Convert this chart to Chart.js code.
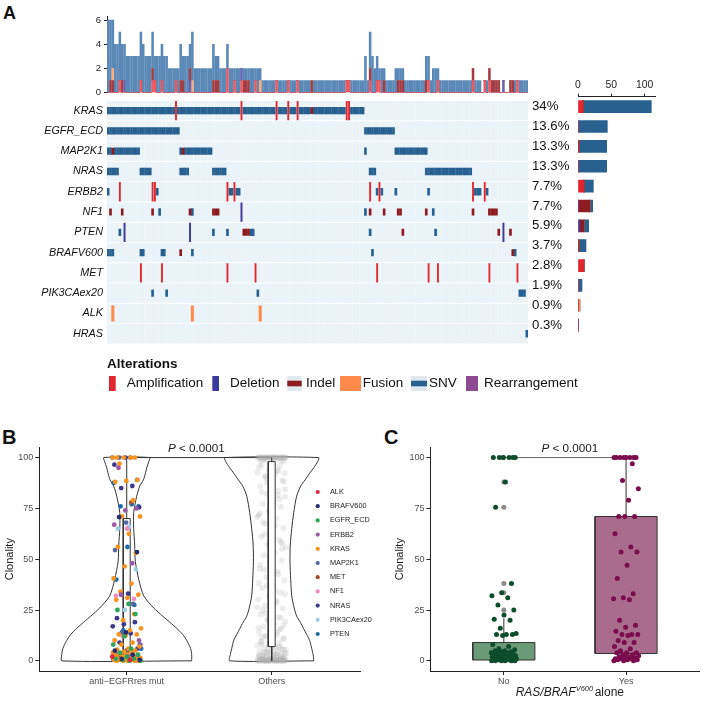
<!DOCTYPE html>
<html>
<head>
<meta charset="utf-8">
<title>Alterations and clonality</title>
<script src="https://cdn.jsdelivr.net/npm/chart.js@4.4.1/dist/chart.umd.min.js"></script>
<style>
html,body{margin:0;padding:0;background:#fff;}
body{width:705px;height:704px;position:relative;overflow:hidden;font-family:"Liberation Sans",Arial,Helvetica,sans-serif;}
canvas{position:absolute;display:block;}
.panel{position:absolute;font-weight:bold;color:#111;line-height:1;}
</style>
</head>
<body>
<div class="panel" style="left:3px;top:4px;font-size:18px;">A</div>
<div class="panel" style="left:2px;top:427px;font-size:20px;">B</div>
<div class="panel" style="left:384px;top:427px;font-size:20px;">C</div>
<canvas id="topBars" width="470" height="105" style="left:60px;top:0px;width:470px;height:105px;"></canvas>
<canvas id="onco" width="705" height="310" style="left:0px;top:90px;width:705px;height:310px;"></canvas>
<canvas id="rightBars" width="134" height="268" style="left:532px;top:78px;width:134px;height:268px;"></canvas>
<canvas id="boxc" width="325" height="265" style="left:380px;top:440px;width:325px;height:265px;"></canvas>
<canvas id="violin" width="380" height="265" style="left:0px;top:440px;width:380px;height:265px;"></canvas>
<script>
// ---------------- DATA: panel A ----------------
const genes = ['KRAS','EGFR_ECD','MAP2K1','NRAS','ERBB2','NF1','PTEN','BRAFV600','MET','PIK3CAex20','ALK','HRAS'];
const pctLabels = ['34%','13.6%','13.3%','13.3%','7.7%','7.7%','5.9%','3.7%','2.8%','1.9%','0.9%','0.3%'];
const altTypes = ['Amplification','Deletion','Indel','Fusion','SNV','Rearrangement'];
const nSamples = 180;
const topTicks = [0,2,4,6];
const rightTicks = [0,50,100];
// altered sample positions (column index, or [from,to] runs) read from the oncoprint
const krasSNV = [[0,28],[30,56],[58,71],[73,76],[78,80],[82,86],[88,101],[104,109]];
const krasAmp = [29,57,72,77,81,102,103];
const krasIndel = [87];
const egfrSNV = [[0,30],[110,122]];
const map2k1SNV = [[0,1],[3,13],31,[33,44],110,[123,136]];
const map2k1Indel = [2,32];
const nrasSNV = [[0,4],[14,18],[31,34],[45,50],[112,114],[136,155]];
const erbb2Amp = [5,19,20,51,54,112,116,156,161];
const erbb2SNV = [0,21,52,53,55,56,115,117,123,137,157,158,159,162];
const nf1Indel = [1,6,19,35,45,46,47,112,118,124,125,136,156,163,164,165,166];
const nf1SNV = [22,36,110,139];
const nf1Del = [57];
const ptenSNV = [5,45,51,61,62,112,140];
const ptenDel = [7,35,169];
const ptenIndel = [58,59,60,126,167,172];
const brafSNV = [0,1,2,14,15,23,24,36,113,174];
const brafIndel = [31,173];
const metAmp = [14,23,51,63,115,137,141,163,175];
const pik3caSNV = [19,25,64,176,177,178];
const alkFusion = [2,36,65];
const hrasSNV = [179];

// ---------------- DATA: panel B ----------------
const bGroups = ['anti\u2212EGFRres mut','Others'];
const yTickValues = [0,25,50,75,100];
const bALK = [2,0.5];
const bBRAFV600 = [70.7,53.5,14,5,3,1,0.5];
const bEGFR = [28,25,23,12,8,6,4,3,2,1,1,0.5,0,0];
const bERBB2 = [95,75,74,67,48,32.5,10,2];
const bKRAS = [100,100,100,100,100,97,89,88.5,88,79,71,71,62.5,56,53,46.5,40.5,38,34,32.5,31,30,23,20,16,15,13,13,12.5,10,9,8,7,6,5.5,5,4.5,4,4,3.5,3,3,2.5,2,2,1.5,1.5,1,1,1,0.5,0.5,0.5,0,0,0,0,0];
const bMAP2K1 = [100,100,100,89,68,54.5,28,14,8,5,3,2,1,0.5];
const bMET = [78,3,1];
const bNF1 = [65,32,30.5,12,8,4,1,0];
const bNRAS = [100,96.5,86,85,75.5,33,21,19,18,17,13.5,9,6,5,3,2,1,0.5];
const bPIK3CA = [66,65,45,25];
const bPTEN = [87.5,77,76,76,56,40,27.5,15,6,2];
const othersClonality = [
100,100,100,100,100,100,100,100,100,100,100,100,100,100,100,100,100,100,100,100,
99.4,98.7,98.1,97.3,96.2,95.8,94.1,92.6,91.9,90.4,88.8,87.1,85.9,83.6,82.2,80.7,
78.9,77.2,75.8,73.1,71.6,69.9,67.4,65.2,63.7,61.1,59.6,57.3,55.8,53.2,51.9,49.4,
47.8,45.3,43.9,41.2,39.7,37.5,35.8,33.6,31.9,30.2,28.6,27.1,25.8,24.3,22.9,21.6,
20.4,19.2,18.1,16.9,15.8,14.7,13.9,12.8,11.9,11.1,10.3,9.6,8.8,8.2,7.5,6.9,
6.3,5.8,5.2,4.7,4.3,3.9,3.4,3.1,2.7,2.4,2.1,1.8,1.6,1.3,1.1,0.9,0.7,0.5,0.4,0.3,
0.2,0.1,0,0,0,0,0,0,0,0,0,0,0,0,0,0,
99.8,97.9,93.4,89.5,84.3,76.5,68.2,58.4,48.6,38.2,29.4,23.5,17.4,13.2,9.1,6.6,4.5,3.6,2.9,2.2,1.5,1.0,0.6,0.3,0.1,0.5,0.8,1.2,0.4,0.2,
100,100,100,100,100,100,100,100,100,100,99.1,98.4,96.8,95.1,93.9,91.2,88.1,86.4,82.9,79.6,74.2,70.8,66.5,62.3,57.9,52.7,
47.1,42.6,36.9,32.8,27.8,24.9,21.1,18.7,16.2,14.1,12.3,10.8,9.3,8.0,7.1,6.1,5.4,4.9,4.1,3.7,3.2,2.8,2.3,1.9,1.7,1.4,
0.9,0.6,0.3,0,0,0,0,0,0,0,0,0.2,0.4,0.8,1.1,1.3,2.6,3.3,4.4,5.6,7.7,11.6,15.3,19.8,26.2,34.7,44.8,55.1,64.4,72.5,
81.5,87.6,92.3,96.5,98.9,99.6];
// violin density half-widths (x units) at clonality levels
const violinY = [0,3,6,10,13,16,19,22,26,32,40,49,57,65,73,81,86,89,92,95,98,100];
const violinLeftHW = [0.448,0.448,0.441,0.414,0.386,0.345,0.297,0.248,0.186,0.117,0.083,0.059,0.055,0.048,0.048,0.069,0.090,0.115,0.128,0.138,0.152,0.159];
const violinRightHW = [0.290,0.286,0.276,0.262,0.241,0.219,0.197,0.172,0.155,0.138,0.131,0.126,0.128,0.138,0.152,0.172,0.200,0.230,0.259,0.290,0.317,0.324];
const bQ1 = [1,7], bMedian = [9,39], bQ3 = [70,98], bLow = [0,0], bHigh = [100,100];

// ---------------- DATA: panel C ----------------
const cGroups = ['No','Yes'];
const cNo = [100,100,100,100,100,100,88,75.5,38,33.5,32,31,27.5,25,22.5,20.5,20,16,13.5,13,13,13,12.5,8,7,6,5.5,5,5,4.5,4.5,4,4,4,3.5,3.5,3,3,3,2.5,2.5,2.5,2,2,2,2,1.5,1.5,1.5,1.5,1,1,1,1,1,0.5,0.5,0.5,0.5,0.5,0,0,0,0,0,0];
const cNoOutliers = [100,88,75.5,38,33.5,25];
const cYes = [100,100,100,100,100,100,100,100,97,88.7,84.7,79,71,71,71,62.5,56,53.5,53.5,47,40.5,33,31,30.5,30,20,17.5,16.5,14.5,13,13,13,12.5,10,9,9,7,6,5,4,4,4,3,3,2.5,2,2,1.5,1.5,1,1,1,0.5,0.5,0.5,0,0,0];
const cQ1 = [0.4,3.6], cMedian = [1.5,17], cQ3 = [9,71], cLow = [0,0], cHigh = [21,100];
const pValueLabel = ['P',' < 0.0001'];
const cAxisTitle = ['RAS/BRAF','V600','alone'];

// ---------------- STYLES ----------------
const FONT = '"Liberation Sans", Arial, Helvetica, sans-serif';
Chart.defaults.font.family = FONT;
Chart.defaults.color = '#222';
const typeColor = {Amplification:'#e1262d', Deletion:'#3b3a9e', Indel:'#8c1c21', Fusion:'#ff8a4c', SNV:'#28608f', Rearrangement:'#8d4c91'};
const topColor = {Amplification:'#ec585d', Deletion:'#6463b5', Indel:'#a33d43', Fusion:'#f9ab7d', SNV:'#5a88b7', Rearrangement:'#a572a8'};
const cellHalf = {Amplification:0.46, Deletion:0.46, Fusion:0.38, SNV:0.165, Indel:0.155, Rearrangement:0.46};
const cellWidth = {Amplification:1.2, Deletion:1.3, Fusion:2.4, SNV:2.0, Indel:2.0, Rearrangement:1.9};
const cellOrder = {SNV:6, Indel:5, Amplification:4, Deletion:3, Fusion:2, Rearrangement:1};
const bGeneColor = {ALK:'#e3263f', BRAFV600:'#262a6e', EGFR_ECD:'#2ea45a', ERBB2:'#9a58a6', KRAS:'#f7931e', MAP2K1:'#56689f', MET:'#9f4f2c', NF1:'#ef8cbe', NRAS:'#3d3a8c', PIK3CAex20:'#a3cbe4', PTEN:'#1f6eab'};

// ---------------- BUILD TABLES ----------------
function expand(list){ const out=[]; list.forEach(v=>{ if(Array.isArray(v)){ for(let s=v[0]; s<=v[1]; s++) out.push(s);} else out.push(v); }); return out; }
const sampleIds = Array.from({length:nSamples},(_,i)=>'S'+(i+1));
const alterationTable = [
 ['KRAS','SNV',krasSNV],['KRAS','Amplification',krasAmp],['KRAS','Indel',krasIndel],
 ['EGFR_ECD','SNV',egfrSNV],
 ['MAP2K1','SNV',map2k1SNV],['MAP2K1','Indel',map2k1Indel],
 ['NRAS','SNV',nrasSNV],
 ['ERBB2','Amplification',erbb2Amp],['ERBB2','SNV',erbb2SNV],
 ['NF1','Indel',nf1Indel],['NF1','SNV',nf1SNV],['NF1','Deletion',nf1Del],
 ['PTEN','SNV',ptenSNV],['PTEN','Deletion',ptenDel],['PTEN','Indel',ptenIndel],
 ['BRAFV600','SNV',brafSNV],['BRAFV600','Indel',brafIndel],
 ['MET','Amplification',metAmp],
 ['PIK3CAex20','SNV',pik3caSNV],
 ['ALK','Fusion',alkFusion],
 ['HRAS','SNV',hrasSNV]
];
const topCounts = {}, geneCounts = {};
altTypes.forEach(t=>{ topCounts[t]=new Array(nSamples).fill(0); geneCounts[t]=new Array(genes.length).fill(0); });
alterationTable.forEach(a=>{ const r=genes.indexOf(a[0]); expand(a[2]).forEach(s=>{ topCounts[a[1]][s]++; geneCounts[a[1]][r]++; }); });
const usedTypes = altTypes.filter(t=>geneCounts[t].some(v=>v>0));

// ---------------- A: top bars ----------------
new Chart(document.getElementById('topBars'), {
  type:'bar',
  data:{labels:sampleIds, datasets: usedTypes.map(t=>({label:t, data:topCounts[t], backgroundColor:topColor[t], barThickness:1.9}))},
  options:{responsive:false, animation:false, events:[],
    layout:{padding:{top:16.7,right:2,bottom:12.3,left:0}},
    plugins:{legend:{display:false}, tooltip:{enabled:false}},
    scales:{
      x:{display:false, stacked:true},
      y:{stacked:true, min:0, max:6.28, afterBuildTicks:s=>{s.ticks=topTicks.map(v=>({value:v}));}, afterFit:s=>{s.width=47;},
         ticks:{font:{size:9.5}, color:'#222', padding:3},
         grid:{drawOnChartArea:false, tickLength:3, tickColor:'#222'},
         border:{display:true, color:'#222', width:1}}
    }}
});

// ---------------- A: oncoprint ----------------
const bgData = [];
genes.forEach((g,r)=>sampleIds.forEach(s=>bgData.push({x:s, y:[r-0.46, r+0.46]})));
const oncoDatasets = [{label:'none', data:bgData, backgroundColor:'#eaf3f8', barThickness:1.9, grouped:false, order:10}];
usedTypes.forEach(t=>{
  const data=[];
  alterationTable.filter(a=>a[1]===t).forEach(a=>{ const r=genes.indexOf(a[0]); expand(a[2]).forEach(s=>data.push({x:sampleIds[s], y:[r-cellHalf[t], r+cellHalf[t]]})); });
  oncoDatasets.push({label:t, data, backgroundColor:typeColor[t], barThickness:cellWidth[t], grouped:false, order:cellOrder[t]});
});
const legendLayout = {titleX:107, titleY:277.7, glyphTop:286, glyphH:15, textY:296.7,
  glyphX:[109,212.3,287.3,340,411,466], glyphW:[6.7,6.7,14.4,21,16,12], textX:[126.7,230,306,362.7,429,484]};
const oncoLegend = {id:'oncoLegend', afterDraw(chart){
  const ctx=chart.ctx, L=legendLayout; ctx.save();
  ctx.fillStyle='#111'; ctx.textBaseline='alphabetic'; ctx.textAlign='left';
  ctx.font='bold 13.5px '+FONT; ctx.fillText('Alterations', L.titleX, L.titleY);
  ctx.font='13.5px '+FONT;
  altTypes.forEach((t,i)=>{
    const x=L.glyphX[i], w=L.glyphW[i];
    if(t==='SNV'||t==='Indel'){
      ctx.fillStyle='#dfe9ef'; ctx.fillRect(x, L.glyphTop, w, L.glyphH);
      ctx.fillStyle=typeColor[t]; ctx.fillRect(x, L.glyphTop+L.glyphH/2-2.8, w, 5.6);
    } else { ctx.fillStyle=typeColor[t]; ctx.fillRect(x, L.glyphTop, w, L.glyphH); }
    ctx.fillStyle='#111'; ctx.fillText(t, L.textX[i], L.textY);
  });
  ctx.restore();
}};
new Chart(document.getElementById('onco'), {
  type:'bar',
  data:{labels:sampleIds, datasets:oncoDatasets},
  options:{responsive:false, animation:false, events:[],
    layout:{padding:{top:6.7,right:177,bottom:56.1,left:0}},
    plugins:{legend:{display:false}, tooltip:{enabled:false}},
    scales:{
      x:{display:false},
      y:{type:'linear', reverse:true, min:-0.5, max:11.5,
         afterBuildTicks:s=>{s.ticks=genes.map((g,i)=>({value:i}));}, afterFit:s=>{s.width=107;},
         ticks:{callback:v=>genes[v], font:{size:10.8, style:'italic'}, color:'#111', padding:4, autoSkip:false},
         grid:{display:false, drawTicks:false}, border:{display:false}}
    }},
  plugins:[oncoLegend]
});

// ---------------- A: right bars ----------------
new Chart(document.getElementById('rightBars'), {
  type:'bar',
  data:{labels:genes, datasets: usedTypes.map(t=>({label:t, data:geneCounts[t], backgroundColor:typeColor[t], barThickness:12}))},
  options:{indexAxis:'y', responsive:false, animation:false, events:[],
    layout:{padding:{top:0,right:10.7,bottom:2.1,left:0}},
    plugins:{legend:{display:false}, tooltip:{enabled:false}},
    scales:{
      x:{position:'top', stacked:true, min:0, max:116, afterBuildTicks:s=>{s.ticks=rightTicks.map(v=>({value:v}));}, afterFit:s=>{s.height=18.7;},
         ticks:{font:{size:10.4}, color:'#222', padding:2, maxRotation:0},
         grid:{drawOnChartArea:false, tickLength:3, tickColor:'#222'}, border:{display:true, color:'#222', width:1}},
      y:{stacked:true, afterFit:s=>{s.width=46;},
         ticks:{callback:(v,i)=>pctLabels[i], crossAlign:'far', font:{size:13.2}, color:'#111', autoSkip:false},
         grid:{display:false, drawTicks:false}, border:{display:false}}
    }}
});

// ---------------- helpers for B / C ----------------
function jitterOffset(k, w){ const f=(k*0.6180339887498949)%1; return (f-0.5)*2*w; }
function drawPValue(ctx, cx, cy){
  ctx.save(); ctx.fillStyle='#1a1a1a'; ctx.textBaseline='middle'; ctx.textAlign='left';
  const f1='italic 11.7px '+FONT, f2='11.7px '+FONT;
  ctx.font=f1; const w1=ctx.measureText(pValueLabel[0]).width;
  ctx.font=f2; const w2=ctx.measureText(pValueLabel[1]).width;
  const x=cx-(w1+w2)/2;
  ctx.font=f1; ctx.fillText(pValueLabel[0], x, cy);
  ctx.font=f2; ctx.fillText(pValueLabel[1], x+w1, cy);
  ctx.restore();
}
function boxDatasets(center, hw, q1, med, q3, lo, hi, fill, order, medW){
  return [
    {type:'scatter', data:[{x:center,y:q3},{x:center,y:hi}], showLine:true, pointRadius:0, borderColor:'#333', borderWidth:1, order:order},
    {type:'scatter', data:[{x:center,y:q1},{x:center,y:lo}], showLine:true, pointRadius:0, borderColor:'#333', borderWidth:1, order:order},
    {type:'scatter', data:[{x:center-hw,y:q1},{x:center+hw,y:q1},{x:center+hw,y:q3},{x:center-hw,y:q3},{x:center-hw,y:q1}], showLine:true, pointRadius:0, borderColor:'#333', borderWidth:1, backgroundColor:fill, fill:'shape', order:order},
    {type:'scatter', data:[{x:center-hw,y:med},{x:center+hw,y:med}], showLine:true, pointRadius:0, borderColor:'#333', borderWidth:medW, order:order}
  ];
}
function yAxisBase(width, titlePad){
  return {type:'linear', min:-5, max:105, afterBuildTicks:s=>{s.ticks=yTickValues.map(v=>({value:v}));}, afterFit:s=>{s.width=width;},
    ticks:{color:'#4d4d4d', font:{size:9}, padding:2},
    grid:{drawOnChartArea:false, tickLength:4, tickColor:'#222'}, border:{display:true, color:'#222', width:1},
    title:{display:true, text:'Clonality', font:{size:11}, color:'#1a1a1a', padding:{top:titlePad,bottom:0}}};
}
function xAxisBase(min, max, labels){
  return {type:'linear', min:min, max:max, afterBuildTicks:s=>{s.ticks=labels.map((l,i)=>({value:i+1}));}, afterFit:s=>{s.height=34;},
    ticks:{callback:v=>labels[Math.round(v)-1], color:'#4d4d4d', font:{size:9}, padding:1, autoSkip:false, maxRotation:0},
    grid:{drawOnChartArea:false, tickLength:4, tickColor:'#222'}, border:{display:true, color:'#222', width:1}};
}
function violinPolygon(center, hw){
  const pts=[]; violinY.forEach((y,i)=>pts.push({x:center+hw[i], y}));
  for(let i=violinY.length-1;i>=0;i--) pts.push({x:center-hw[i], y:violinY[i]});
  pts.push(pts[0]); return pts;
}

// ---------------- B ----------------
const bSeries = [['ALK',bALK],['BRAFV600',bBRAFV600],['EGFR_ECD',bEGFR],['ERBB2',bERBB2],['KRAS',bKRAS],['MAP2K1',bMAP2K1],['MET',bMET],['NF1',bNF1],['NRAS',bNRAS],['PIK3CAex20',bPIK3CA],['PTEN',bPTEN]];
const bDatasets = [];
let kj = 0;
bSeries.forEach(([g,vals])=>{
  bDatasets.push({label:g, data: vals.map(v=>({x:1+jitterOffset(kj++,0.1), y:v})), backgroundColor:bGeneColor[g], borderWidth:0, pointRadius:2.4, order:1});
});
bDatasets.push({label:'Others', data: othersClonality.map((v,i)=>({x:2+jitterOffset(i+7,0.1), y:v})), backgroundColor:'rgba(175,175,175,0.22)', borderWidth:0, pointRadius:3, order:6});
boxDatasets(1,0.024,bQ1[0],bMedian[0],bQ3[0],bLow[0],bHigh[0],'#ffffff',4,1).forEach(d=>bDatasets.push(d));
boxDatasets(2,0.024,bQ1[1],bMedian[1],bQ3[1],bLow[1],bHigh[1],'#ffffff',4,1).forEach(d=>bDatasets.push(d));
bDatasets.push({data:violinPolygon(1,violinLeftHW), showLine:true, pointRadius:0, borderColor:'#333', borderWidth:1, tension:0.25, fill:false, order:8});
bDatasets.push({data:violinPolygon(2,violinRightHW), showLine:true, pointRadius:0, borderColor:'#333', borderWidth:1, tension:0.25, fill:false, order:8});
bDatasets.push({data:[{x:1,y:100},{x:2,y:100}], showLine:true, pointRadius:0, borderColor:'#333', borderWidth:1, order:7});
const bPlugin = {id:'bDecor', afterDraw(chart){
  const ctx=chart.ctx, xs=chart.scales.x, ys=chart.scales.y;
  drawPValue(ctx, xs.getPixelForValue(1.48), ys.getPixelForValue(100)-8.4);
  ctx.save(); ctx.textBaseline='middle'; ctx.textAlign='left'; ctx.font='7.3px '+FONT;
  bSeries.forEach(([g],i)=>{
    const y=52+i*14.2;
    ctx.fillStyle=bGeneColor[g]; ctx.beginPath(); ctx.arc(317.7,y,2.1,0,Math.PI*2); ctx.fill();
    ctx.fillStyle='#222'; ctx.fillText(g,330,y);
  });
  ctx.restore();
}};
new Chart(document.getElementById('violin'), {
  type:'scatter',
  data:{datasets:bDatasets},
  options:{responsive:false, animation:false, events:[],
    layout:{padding:{top:6.7,right:20,bottom:0,left:0}},
    plugins:{legend:{display:false}, tooltip:{enabled:false}},
    scales:{x:xAxisBase(0.397,2.609,bGroups), y:yAxisBase(39.3,3.4)}},
  plugins:[bPlugin]
});

// ---------------- C ----------------
const cDatasets = [];
cDatasets.push({label:'No', data:cNo.map((v,i)=>({x:1+jitterOffset(i+3,0.105), y:v})), backgroundColor:'#0e4d2c', borderWidth:0, pointRadius:2.5, order:1});
cDatasets.push({label:'Yes', data:cYes.map((v,i)=>({x:2+jitterOffset(i+11,0.105), y:v})), backgroundColor:'#7b0c4e', borderWidth:0, pointRadius:2.5, order:1});
cDatasets.push({label:'outliers', data:cNoOutliers.map(v=>({x:1, y:v})), backgroundColor:'#8a8a8a', borderWidth:0, pointRadius:2.5, order:2});
boxDatasets(1,0.254,cQ1[0],cMedian[0],cQ3[0],cLow[0],cHigh[0],'#6b9a79',4,2).forEach(d=>cDatasets.push(d));
boxDatasets(2,0.254,cQ1[1],cMedian[1],cQ3[1],cLow[1],cHigh[1],'#a96c8c',4,2).forEach(d=>cDatasets.push(d));
cDatasets.push({data:[{x:1,y:100},{x:2,y:100}], showLine:true, pointRadius:0, borderColor:'#666', borderWidth:1, order:7});
const cPlugin = {id:'cDecor', afterDraw(chart){
  const ctx=chart.ctx, xs=chart.scales.x, ys=chart.scales.y;
  drawPValue(ctx, xs.getPixelForValue(1.54), ys.getPixelForValue(100)-8.4);
  ctx.save(); ctx.fillStyle='#1a1a1a'; ctx.textBaseline='alphabetic'; ctx.textAlign='left';
  const f1='italic 12px '+FONT, f2='italic 7.5px '+FONT, f3='12px '+FONT;
  ctx.font=f1; const w1=ctx.measureText(cAxisTitle[0]).width;
  ctx.font=f2; const w2=ctx.measureText(cAxisTitle[1]).width;
  ctx.font=f3; const w3=ctx.measureText(cAxisTitle[2]).width;
  const gap=1.5, total=w1+w2+gap+w3, base=256;
  let x=xs.getPixelForValue(1.54)-total/2;
  ctx.font=f1; ctx.fillText(cAxisTitle[0], x, base); x+=w1;
  ctx.font=f2; ctx.fillText(cAxisTitle[1], x, base-5); x+=w2+gap;
  ctx.font=f3; ctx.fillText(cAxisTitle[2], x, base);
  ctx.restore();
}};
new Chart(document.getElementById('boxc'), {
  type:'scatter',
  data:{datasets:cDatasets},
  options:{responsive:false, animation:false, events:[],
    layout:{padding:{top:6.7,right:5.6,bottom:0,left:0}},
    plugins:{legend:{display:false}, tooltip:{enabled:false}},
    scales:{x:xAxisBase(0.4,2.6,cGroups), y:yAxisBase(50.5,13.4)}},
  plugins:[cPlugin]
});
</script>
</body>
</html>
